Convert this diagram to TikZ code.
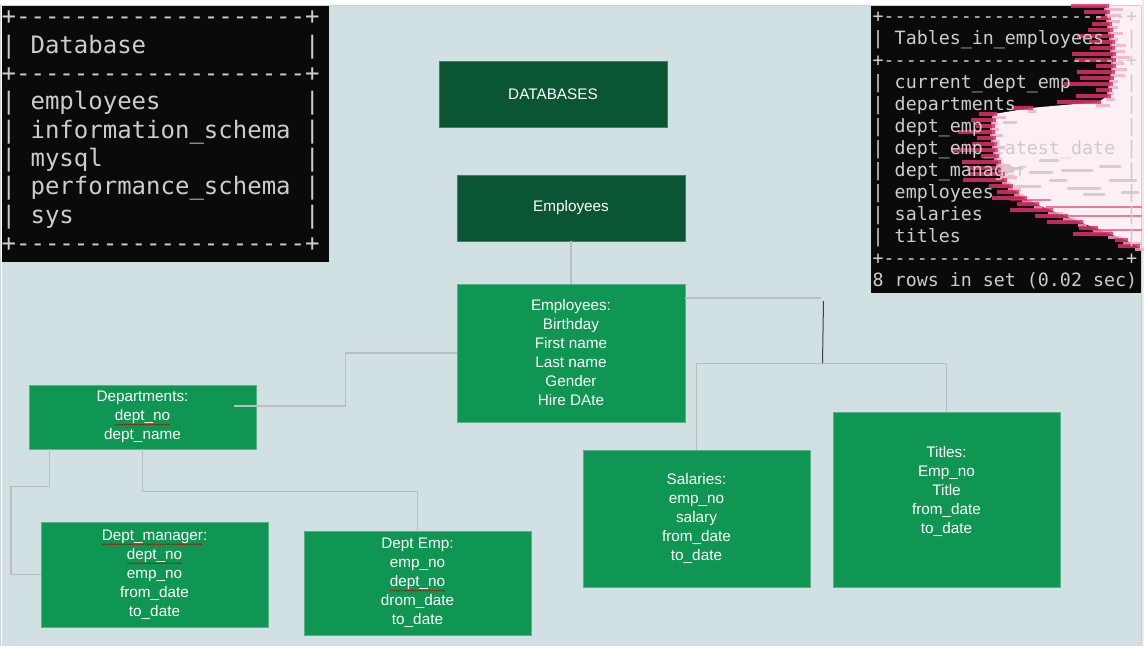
\documentclass[tikz,border=0pt]{standalone}
\usepackage{fontspec}
\setmainfont{Liberation Sans}
\setmonofont{DejaVu Sans Mono}
\usetikzlibrary{decorations.pathmorphing}
\definecolor{bg}{HTML}{D0E0E3}
\definecolor{dkgreen}{HTML}{0A5634}
\definecolor{dkline}{HTML}{3F7F62}
\definecolor{mdgreen}{HTML}{0F9652}
\definecolor{boxline}{HTML}{5BAE85}
\definecolor{connc}{HTML}{BDBDBD}
\definecolor{termtext}{HTML}{CCCCCC}
\definecolor{termbg}{HTML}{0A0A0A}
\definecolor{glpink}{HTML}{E0306A}
\definecolor{glwhite}{HTML}{FCF0F5}
\newcommand\sq[1]{\tikz[baseline=(w.base)]{\node[inner sep=0pt, outer sep=0pt, minimum width=0pt, minimum height=0pt, draw=none, fill=none] (w) {#1};\draw[red!75!black, line width=0.4pt, decorate, decoration={snake, amplitude=0.5pt, segment length=2.2pt}] ([yshift=-0.8pt]w.south west) -- ([yshift=-0.8pt]w.south east);}}
\newcommand\lrow[1]{|~\makebox[10.837em][l]{#1}~|}
\newcommand\rrow[1]{|~\makebox[12.041em][l]{#1}~|}
\newcommand\brd[1]{+\foreach \i in {1,...,#1}{-\kern0pt}+}
\newcommand\glitchedge{6/1106,12/1107,18/1108,24/1109,30/1110,36/1111,42/1112,48/1112,54/1113,60/1113,66/1113,72/1112,78/1111,84/1110,90/1109,96/1108,102/1098,108/1030,114/994,120/993,126/992,132/992,138/993,144/994,150/995,156/996,162/998,168/1000,174/1002,180/1004,186/1010,192/1016,198/1024,204/1036,210/1050,216/1065,222/1080,228/1095,234/1110,240/1125,246/1137}
\begin{document}
\begin{tikzpicture}[x=1pt,y=-1pt,
  box/.style={draw=boxline, line width=0.8pt, fill=mdgreen, text=white, align=center, inner sep=0pt, font=\fontsize{15.3}{19}\selectfont, minimum width=227pt},
  dbox/.style={box, fill=dkgreen, draw=dkline, minimum height=66pt, minimum width=228pt},
  conn/.style={draw=connc, line width=1.3pt},
  darkconn/.style={draw=black!75, line width=1pt},
  termL/.style={anchor=base west, inner sep=0pt, text=termtext, font=\ttfamily\fontsize{24}{28}\selectfont},
  termR/.style={anchor=base west, inner sep=0pt, text=termtext, font=\ttfamily\fontsize{18.3}{22}\selectfont}]
\useasboundingbox (0,0) rectangle (1144,646);
% canvas
\fill[white] (0,0) rectangle (1144,646);
\fill[bg] (1.5,6) rectangle (1141,646);
\draw[black!18, line width=1pt] (0,5.5) -- (1141,5.5);
\draw[black!18, line width=1.2pt] (0.6,6) -- (0.6,646);
\draw[black!20, line width=1pt] (1141.5,6) -- (1141.5,646);
\fill[black!8] (1142,0) rectangle (1144,646);
% left terminal
\fill[termbg] (2,6) rectangle (329,262);
\foreach \t [count=\k from 0] in {{\brd{20}},{\lrow{Database}},{\brd{20}},{\lrow{employees}},{\lrow{information\_schema}},{\lrow{mysql}},{\lrow{performance\_schema}},{\lrow{sys}},{\brd{20}}}
  \node[termL] (l\k) at (1.5,{24.8+28.33*\k}) {\t};
% right terminal with its glitch
\fill[termbg] (871,6) rectangle (1141,293);
\fill[glwhite] (1141,6) \foreach \yy/\xb in \glitchedge { -- (\xb,\yy) } -- (1141,250) -- cycle;
\pgfmathsetseed{11}
\foreach \yy/\xb in \glitchedge {
  \pgfmathsetmacro\lena{10+rnd*38}
  \pgfmathsetmacro\lenb{4+rnd*14}
  \draw[glpink, line width=3.4pt, opacity=0.85] ({\xb-\lena},\yy) -- ({\xb+3},\yy);
  \draw[glpink!40!white, line width=3pt, opacity=0.8] ({\xb-2},{\yy+3}) -- ({\xb+\lenb},{\yy+3});
}
\foreach \a/\b/\c in {1002/1022/168,1030/1052/172,1062/1092/170,1100/1120/166,1012/1040/186,1068/1100/188,1110/1136/180,1040/1058/160,1004/1016/122,1084/1104/194,1050/1066/180,1122/1138/192}
  \draw[black!60, line width=3pt, line cap=round, opacity=0.25] (\a,\c) -- (\b,\c);
\foreach \a/\b/\c in {1046/1141/207,1066/1141/216,1092/1141/230,1010/1050/200}
  \draw[glpink, line width=2pt, line cap=round, opacity=0.6] (\a,\c) -- (\b,\c);
\foreach \t [count=\k from 0] in {{\brd{22}},{\rrow{Tables\_in\_employees}},{\brd{22}},{\rrow{current\_dept\_emp}},{\rrow{departments}},{\rrow{dept\_emp}},{\rrow{dept\_emp\_latest\_date}},{\rrow{dept\_manager}},{\rrow{employees}},{\rrow{salaries}},{\rrow{titles}},{\brd{22}},{8 rows in set (0.02 sec)}}
  \node[termR] (r\k) at (872.5,{22+22*\k}) {\t};
% boxes
\node[dbox] (dbs) at (553,94) {DATABASES};
\node[dbox] (empd) at (571,208) {Employees};
\node[box, minimum width=228pt, minimum height=138pt] (emp) at (571,353) {Employees:\\Birthday\\First name\\Last name\\Gender\\Hire DAte};
\node[box, minimum height=64pt] (dep) at (142.5,417) {Departments:\\\sq{dept\_no}\\dept\_name};
\node[box, minimum height=105pt] (dm) at (154.5,574.5) {\sq{Dept\_manager}:\\\sq{dept\_no}\\emp\_no\\from\_date\\to\_date};
\node[box, minimum height=104pt] (de) at (417.5,583) {Dept Emp:\\emp\_no\\\sq{dept\_no}\\drom\_date\\to\_date};
\node[box, minimum height=137pt] (sal) at (696.5,518.5) {Salaries:\\emp\_no\\salary\\from\_date\\to\_date};
\node[box, minimum height=175pt] (tit) at (946.5,499.5) {Titles:\\Emp\_no\\Title\\from\_date\\to\_date\\\mbox{}};
% connectors
\draw[conn] (empd.south) -- (emp.north);
\draw[conn] ([shift={(-22,-11)}]dep.east) -- ++(111,0) |- (emp.west);
\draw[conn] ([shift={(21,0)}]dep.south west) |- ++(-38.5,37) |- (dm.west);
\draw[conn] (dep.south) -- ++(0,42) -| (de.north);
\coordinate (ej) at (821,298);
\draw[conn] ([shift={(0,-55)}]emp.east) -- (ej);
\coordinate (d1) at (823.5,301);
\coordinate (d2) at (822.5,364);
\draw[darkconn] (d1) -- (d2);
\draw[conn] (sal.north) -- ++(0,-86) -| (tit.north);
\end{tikzpicture}
\end{document}
